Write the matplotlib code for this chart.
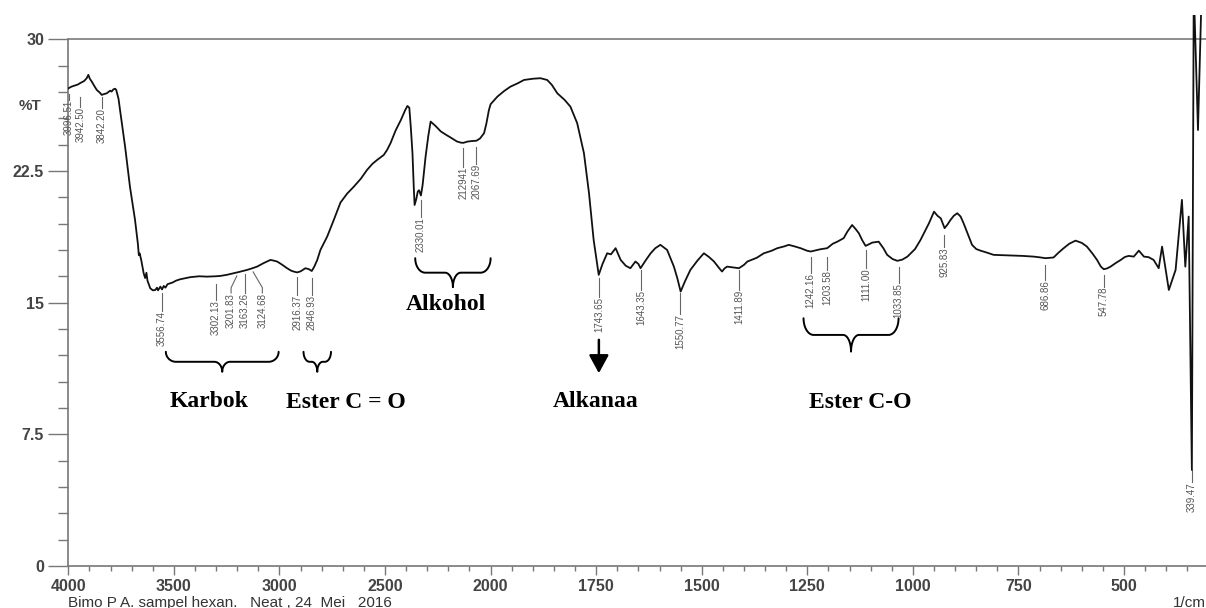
import numpy as np
import matplotlib
matplotlib.use('Agg')
import matplotlib.pyplot as plt

# FTIR spectrum of the hexane sample (wavenumber in 1/cm, %T)
wavenumber = [
    4000, 3985, 3970, 3955, 3944, 3925, 3913, 3905, 3898, 3889, 3875, 3865,
    3850, 3842, 3830, 3818, 3802, 3795, 3786, 3778, 3773, 3762, 3755, 3731,
    3708, 3684, 3670, 3666, 3662, 3655, 3643, 3636, 3630, 3625, 3612, 3600,
    3588, 3580, 3575, 3564, 3556, 3548, 3540, 3530, 3517, 3505, 3490, 3470,
    3450, 3422, 3380, 3343, 3302, 3280, 3250, 3217, 3190, 3154, 3130, 3106,
    3075, 3043, 3030, 3011, 2990, 2964, 2945, 2933, 2916, 2900, 2877, 2860,
    2847, 2835, 2821, 2806, 2774, 2743, 2711, 2680, 2648, 2615, 2585, 2560,
    2537, 2506, 2490, 2474, 2450, 2425, 2405, 2394, 2385, 2378, 2370, 2364,
    2360, 2352, 2345, 2339, 2330, 2322, 2308, 2295, 2284, 2260, 2236, 2210,
    2189, 2160, 2141, 2129, 2110, 2090, 2067, 2050, 2031, 2020, 2008, 2000,
    1984, 1968, 1953, 1935, 1921, 1900, 1882, 1866, 1855, 1842, 1825, 1811,
    1795, 1779, 1767, 1756, 1744, 1735, 1724, 1715, 1704, 1692, 1680, 1669,
    1657, 1650, 1645, 1633, 1621, 1610, 1598, 1582, 1566, 1558, 1550, 1540,
    1527, 1510, 1495, 1483, 1471, 1460, 1452, 1446, 1440, 1425, 1412, 1400,
    1392, 1370, 1353, 1335, 1321, 1305, 1294, 1280, 1266, 1250, 1242, 1219,
    1203, 1190, 1179, 1164, 1155, 1144, 1136, 1128, 1120, 1112, 1096, 1081,
    1070, 1061, 1048, 1037, 1025, 1013, 995, 982, 962, 950, 942, 934,
    925, 918, 911, 903, 895, 887, 880, 870, 860, 850, 840, 825,
    809, 785, 761, 740, 714, 700, 686, 675, 667, 655, 643, 630,
    615, 600, 588, 575, 564, 555, 548, 540, 532, 520, 508, 498,
    489, 477, 465, 453, 442, 430, 418, 410, 394, 378, 363, 355,
    347, 339.47, 335, 325, 316, 306,
]
transmittance = [
    27.20, 27.30, 27.36, 27.42, 27.50, 27.62, 27.78, 27.97, 27.75, 27.59, 27.30, 27.11,
    26.95, 26.83, 26.88, 26.92, 27.07, 27.02, 27.15, 27.18, 27.11, 26.60, 25.97, 23.88,
    21.60, 19.71, 18.30, 17.70, 17.80, 17.45, 16.67, 16.40, 16.70, 16.25, 15.82, 15.70,
    15.72, 15.85, 15.70, 15.91, 15.75, 15.95, 15.85, 16.05, 16.10, 16.15, 16.25, 16.33,
    16.38, 16.45, 16.50, 16.48, 16.50, 16.52, 16.58, 16.67, 16.75, 16.86, 16.95, 17.05,
    17.25, 17.43, 17.40, 17.34, 17.18, 16.96, 16.82, 16.77, 16.72, 16.78, 16.96, 16.90,
    16.80, 17.05, 17.43, 18.00, 18.76, 19.70, 20.70, 21.20, 21.60, 22.05, 22.56, 22.90,
    23.13, 23.41, 23.70, 24.08, 24.80, 25.40, 25.95, 26.20, 26.10, 25.00, 23.50, 21.60,
    20.56, 20.90, 21.32, 21.40, 21.10, 21.70, 23.31, 24.50, 25.31, 25.05, 24.75, 24.55,
    24.40, 24.18, 24.11, 24.10, 24.17, 24.20, 24.22, 24.35, 24.65, 25.20, 25.97, 26.30,
    26.73, 27.05, 27.30, 27.50, 27.68, 27.75, 27.78, 27.68, 27.40, 26.92, 26.55, 26.16,
    25.22, 23.51, 21.23, 18.57, 16.58, 17.20, 17.81, 17.75, 18.10, 17.43, 17.10, 16.96,
    17.34, 17.20, 16.96, 17.40, 17.81, 18.10, 18.29, 18.00, 17.05, 16.40, 15.63, 16.20,
    16.86, 17.40, 17.81, 17.60, 17.34, 17.00, 16.77, 16.95, 17.05, 17.00, 16.96, 17.15,
    17.34, 17.55, 17.81, 17.95, 18.10, 18.20, 18.29, 18.20, 18.10, 17.95, 17.91, 18.04,
    18.10, 18.35, 18.47, 18.67, 19.05, 19.42, 19.20, 18.95, 18.55, 18.23, 18.42, 18.47,
    18.10, 17.72, 17.48, 17.38, 17.45, 17.62, 18.05, 18.57, 19.52, 20.18, 19.95, 19.80,
    19.24, 19.45, 19.71, 19.95, 20.09, 19.90, 19.52, 18.90, 18.29, 18.05, 17.96, 17.85,
    17.72, 17.70, 17.68, 17.66, 17.62, 17.58, 17.53, 17.55, 17.57, 17.85, 18.10, 18.35,
    18.53, 18.40, 18.19, 17.80, 17.43, 17.05, 16.90, 16.95, 17.05, 17.25, 17.43, 17.60,
    17.66, 17.62, 17.96, 17.62, 17.59, 17.43, 16.96, 18.19, 15.72, 16.86, 20.85, 17.05,
    19.90, 5.47, 33.0, 24.83, 33.0, 33.0,
]

# peak picks: position, text, where the text sits, top of leader, top of text
peak_wn = [3996.51, 3942.50, 3842.20, 3556.74, 3302.13, 3201.83, 3163.26, 3124.68,
           2916.37, 2846.93, 2330.01, 2129.41, 2067.69, 1743.65, 1643.35, 1550.77,
           1411.89, 1242.16, 1203.58, 1111.00, 1033.85, 925.83, 686.86, 547.78, 339.47]
peak_text = ['3996.51', '3942.50', '3842.20', '3556.74', '3302.13', '3201.83', '3163.26',
             '3124.68', '2916.37', '2846.93', '2330.01', '212941', '2067.69', '1743.65',
             '1643.35', '1550.77', '1411.89', '1242.16', '1203.58', '1111.00', '1033.85',
             '925.83', '686.86', '547.78', '339.47']
peak_text_wn = [3996.51, 3942.50, 3842.20, 3556.74, 3302.13, 3229.0, 3163.26, 3081.0,
                2916.37, 2846.93, 2330.01, 2129.41, 2067.69, 1743.65, 1643.35, 1550.77,
                1411.89, 1242.16, 1203.58, 1111.00, 1033.85, 925.83, 686.86, 547.78, 339.47]
peak_lead_top = [26.88, 26.71, 26.71, 15.55, 16.07, 16.52, 16.63, 16.75, 16.46, 16.41,
                 20.85, 23.81, 23.87, 16.41, 16.86, 15.55, 16.86, 17.60, 17.60, 18.00,
                 17.03, 18.86, 17.15, 16.58, 5.47]
peak_text_top = [26.54, 26.14, 26.09, 14.53, 15.16, 15.55, 15.55, 15.55, 15.44, 15.44,
                 19.88, 22.73, 22.90, 15.33, 15.72, 14.36, 15.72, 16.69, 16.86, 16.97,
                 16.12, 18.17, 16.29, 15.89, 4.79]

# functional group brackets
group_names = ['Karbok', 'Ester C = O', 'Alkohol', 'Ester C-O']
group_left = [3538, 2886, 2357, 1259]
group_right = [3004, 2756, 2000, 1034]
group_top = [12.2, 12.2, 17.53, 14.11]
group_tip = [11.06, 11.06, 15.88, 12.21]
group_text_wn = [3333, 2685, 2210, 1125]
group_text_y = [9.06, 9.0, 14.58, 8.99]

arrow_name = 'Alkanaa'
arrow_wn = 1743.65
arrow_from, arrow_to = 12.88, 10.98
arrow_text_wn, arrow_text_y = 1752, 9.08

major_x = [4000, 3500, 3000, 2500, 2000, 1750, 1500, 1250, 1000, 750, 500]
minor_x = list(range(3900, 2000, -100)) + list(range(1950, 300, -50))
major_y = [0, 7.5, 15, 22.5, 30]
minor_y = [1.5, 3, 4.5, 6, 9, 10.5, 12, 13.5, 16.5, 18, 19.5, 21, 24, 25.5, 27, 28.5]


# wavenumber axis: 500 per division above 2000, 250 per division below
def fwd(w):
    w = np.asarray(w, dtype=float)
    return np.where(w >= 2000, (w - 2000) / 500.0, (w - 2000) / 250.0)


def inv(s):
    s = np.asarray(s, dtype=float)
    return np.where(s >= 0, 2000 + 500.0 * s, 2000 + 250.0 * s)


def brace(ax, w0, w1, top, tip):
    # curly bracket opening upwards, built in scaled units then mapped back
    s0, s1 = float(fwd(w0)), float(fwd(w1))
    d = np.sign(s1 - s0)
    mid = (top + tip) / 2
    rx = min(0.095, abs(s1 - s0) / 4.5)
    rc = min(0.075, abs(s1 - s0) / 5.0)
    sc = (s0 + s1) / 2
    t = np.linspace(0, np.pi / 2, 20)
    tr = t[::-1]
    xs = np.concatenate([
        s0 + d * rx * (1 - np.cos(t)),
        sc - d * rc + d * rc * np.sin(t),
        sc + d * rc - d * rc * np.sin(tr),
        s1 - d * rx * (1 - np.cos(tr)),
    ])
    ys = np.concatenate([
        top - (top - mid) * np.sin(t),
        tip + (mid - tip) * np.cos(t),
        tip + (mid - tip) * np.cos(tr),
        top - (top - mid) * np.sin(tr),
    ])
    ax.plot(inv(xs), ys, color='black', lw=1.4, solid_capstyle='round')


plt.rcParams['font.family'] = ['Liberation Sans', 'DejaVu Sans']

fig = plt.figure(figsize=(12.06, 6.08), dpi=100)
ax = fig.add_axes([68.3 / 1206, 1 - 566 / 608, 1 - 68.3 / 1206, 551 / 608])
ax.set_xscale('function', functions=(fwd, inv))
ax.set_xlim(4000, 306)
ax.set_ylim(0, 31.38)

ax.axhline(30, color='#7a7a7a', lw=1.2, zorder=1)
ax.plot(wavenumber, transmittance, color='#111111', lw=1.3, zorder=3)

# peak picks with their leaders
for w, txt, wt, lt, tt in zip(peak_wn, peak_text, peak_text_wn, peak_lead_top, peak_text_top):
    if wt == w:
        ax.plot([w, w], [lt, tt], color='#666666', lw=0.8)
    else:
        ax.plot([w, wt, wt], [lt, tt + 0.3, tt], color='#666666', lw=0.8)
    ax.text(wt, tt, txt, rotation=90, ha='center', va='top', fontsize=7,
            color='#555555')

# group brackets and labels
for name, w0, w1, top, tip, tw, ty in zip(group_names, group_left, group_right, group_top,
                                           group_tip, group_text_wn, group_text_y):
    brace(ax, w0, w1, top, tip)
    ax.text(tw, ty, name, ha='center', va='baseline', fontsize=17, fontweight='bold',
            family='Liberation Serif', color='black')

ax.annotate('', xy=(arrow_wn, arrow_to), xytext=(arrow_wn, arrow_from),
            arrowprops=dict(arrowstyle='-|>,head_length=0.55,head_width=0.3',
                            color='black', lw=1.8, mutation_scale=20,
                            shrinkA=0, shrinkB=0))
ax.text(arrow_text_wn, arrow_text_y, arrow_name, ha='center', va='baseline', fontsize=17,
        fontweight='bold', family='Liberation Serif', color='black')

# axes styling
for side in ['top', 'right']:
    ax.spines[side].set_visible(False)
ax.spines['left'].set_bounds(0, 30)
for side in ['left', 'bottom']:
    ax.spines[side].set_color('#777777')
    ax.spines[side].set_linewidth(1.2)

ax.set_xticks(major_x, labels=[str(v) for v in major_x], fontsize=11.5,
              fontweight='bold', color='#444444')
ax.set_xticks(minor_x, minor=True)
ax.set_yticks(major_y, labels=[f'{v:g}' for v in major_y], fontsize=11.5,
              fontweight='bold', color='#444444')
ax.set_yticks(minor_y, minor=True)
ax.tick_params(axis='x', which='major', length=6.5, width=1.0, color='#777777', pad=3)
ax.tick_params(axis='x', which='minor', length=3.5, width=1.0, color='#777777')
ax.tick_params(axis='y', which='major', length=14.4, width=1.0, color='#777777', pad=3)
ax.tick_params(axis='y', which='minor', length=7.2, width=1.0, color='#777777')

fig.text(30 / 1206, 1 - 106 / 608, '%T', ha='center', va='center', fontsize=11,
         fontweight='bold', color='#444444')
fig.text(68 / 1206, 1 - 603 / 608, 'Bimo P A. sampel hexan.   Neat , 24  Mei   2016',
         ha='left', va='center', fontsize=11, color='#333333')
fig.text(1173 / 1206, 1 - 603 / 608, '1/cm', ha='left', va='center', fontsize=11,
         color='#333333')

fig.savefig('out.png', dpi=100)
